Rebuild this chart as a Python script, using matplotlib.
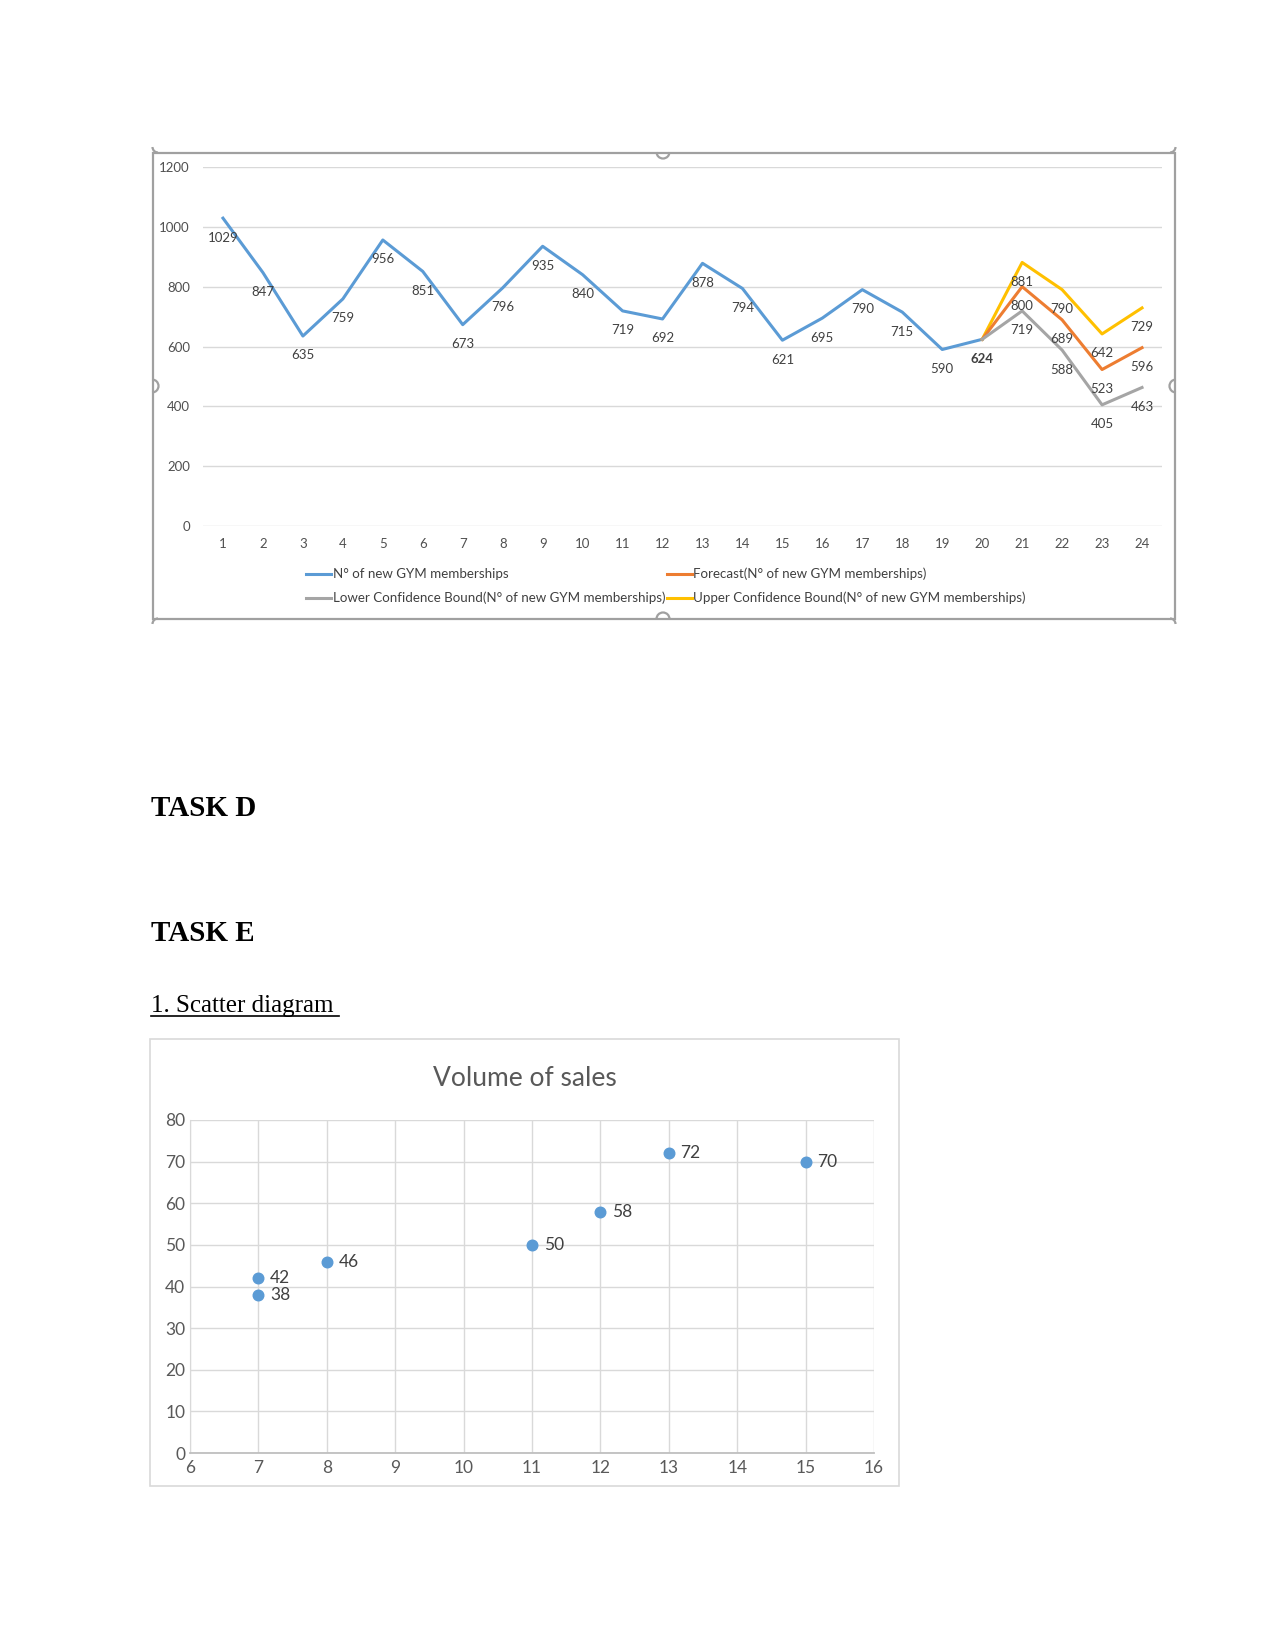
import matplotlib
matplotlib.use('Agg')
import matplotlib.pyplot as plt
from matplotlib.patches import Rectangle, Arc

# --- data: gym memberships forecast chart ---
periods = list(range(1, 25))
memberships = [1029, 847, 635, 759, 956, 851, 673, 796, 935, 840, 719, 692,
               878, 794, 621, 695, 790, 715, 590, 624]
forecast_x = [20, 21, 22, 23, 24]
forecast = [624, 800, 689, 523, 596]
lower_bound = [624, 719, 588, 405, 463]
upper_bound = [624, 881, 790, 642, 729]
y_ticks_top = [0, 200, 400, 600, 800, 1000, 1200]

legend_labels = ['N° of new GYM memberships',
                 'Lower Confidence Bound(N° of new GYM memberships)',
                 'Forecast(N° of new GYM memberships)',
                 'Upper Confidence Bound(N° of new GYM memberships)']

# --- data: scatter diagram ---
scatter_x = [7, 7, 8, 11, 12, 13, 15]
scatter_y = [42, 38, 46, 50, 58, 72, 70]
scatter_title = 'Volume of sales'

BLUE = '#5B9BD5'
ORANGE = '#ED7D31'
GRAY = '#A5A5A5'
YELLOW = '#FFC000'
GRID = '#D9D9D9'
LABEL = '#404040'

W, H = 1275, 1650
fig = plt.figure(figsize=(W / 100, H / 100), dpi=100)
fig.patch.set_facecolor('white')


def px_axes(x0, y0, x1, y1):
    return fig.add_axes([x0 / W, 1 - y1 / H, (x1 - x0) / W, (y1 - y0) / H])


# ---------------- top chart ----------------
ax = px_axes(203, 167, 1162, 526)
ax.set_xlim(0.5, 24.5)
ax.set_ylim(0, 1200)
ax.set_yticks(y_ticks_top)
ax.set_xticks(periods)
ax.grid(axis='y', color=GRID, lw=1)
ax.set_axisbelow(True)
for s in ax.spines.values():
    s.set_visible(False)
ax.tick_params(length=0, labelsize=9.5, colors='#505050', pad=9)
ax.tick_params(axis='y', pad=9.4)
for lab in ax.get_xticklabels() + ax.get_yticklabels():
    lab.set_family('Lato')

l1, = ax.plot(periods[:len(memberships)], memberships, color=BLUE, lw=2.2)
l3, = ax.plot(forecast_x, upper_bound, color=YELLOW, lw=2.2)
l2, = ax.plot(forecast_x, forecast, color=ORANGE, lw=2.2)
l4, = ax.plot(forecast_x, lower_bound, color=GRAY, lw=2.2)

lbl_kw = dict(textcoords='offset points', xytext=(0, -14), ha='center',
              va='center', fontsize=9.5, color=LABEL, family='Lato')
for i, v in enumerate(memberships):
    w = 'bold' if i == len(memberships) - 1 else 'normal'
    ax.annotate(str(v), (periods[i], v), fontweight=w, **lbl_kw)
for series in (forecast, lower_bound, upper_bound):
    for x, v in zip(forecast_x[1:], series[1:]):
        ax.annotate(str(v), (x, v), **lbl_kw)

fig.legend([l1, l4, l2, l3], legend_labels, ncol=2, loc='center',
           bbox_to_anchor=(666 / W, 1 - 586 / H), frameon=False,
           prop={'family': 'Lato', 'size': 9.6}, labelcolor='#404040',
           handlelength=1.9, handletextpad=0.1, columnspacing=0.1,
           labelspacing=0.85)

# ---------------- scatter chart ----------------
sx = px_axes(190, 1120, 874, 1453)
sx.set_xlim(6, 16)
sx.set_ylim(0, 80)
sx.set_xticks(range(6, 17))
sx.set_yticks(range(0, 81, 10))
sx.grid(True, color=GRID, lw=1)
sx.set_axisbelow(True)
for k in ('top', 'right'):
    sx.spines[k].set_visible(False)
sx.spines['left'].set_color(GRID)
sx.spines['bottom'].set_color('#BFBFBF')
sx.spines['bottom'].set_linewidth(1.3)
sx.tick_params(length=0, labelsize=12.5, colors='#595959', pad=5)
sx.tick_params(axis='y', pad=3.5)
for lab in sx.get_xticklabels() + sx.get_yticklabels():
    lab.set_family('Lato')
sx.scatter(scatter_x, scatter_y, s=58, color=BLUE, zorder=3)
for x, y in zip(scatter_x, scatter_y):
    sx.annotate(str(y), (x, y), textcoords='offset points', xytext=(8.5, 0),
                ha='left', va='center', fontsize=12.5, color=LABEL,
                family='Lato')

# ---------------- page overlay ----------------
ov = fig.add_axes([0, 0, 1, 1], facecolor='none')
ov.set_xlim(0, W)
ov.set_ylim(H, 0)
ov.axis('off')

# top chart frame with selection handles (y axis is inverted here)
fc = '#A0A0A0'
ov.add_patch(Rectangle((152.5, 152.5), 1022.5, 466, fill=False, ec=fc, lw=1.6))
ov.add_patch(Arc((663, 152), 13, 13, theta1=0, theta2=180, ec=fc, lw=1.6))
ov.add_patch(Arc((663, 619), 13, 13, theta1=180, theta2=360, ec=fc, lw=1.6))
ov.add_patch(Arc((152, 386), 13, 13, theta1=-90, theta2=90, ec=fc, lw=1.6))
ov.add_patch(Arc((1176, 386), 13, 13, theta1=90, theta2=270, ec=fc, lw=1.6))
for cx, cy, t1 in [(158, 147, 90), (1170, 147, 0), (158, 624, 180), (1170, 624, 270)]:
    ov.add_patch(Arc((cx, cy), 11, 11, theta1=t1, theta2=t1 + 90, ec=fc, lw=1.6))

# scatter chart frame
ov.add_patch(Rectangle((150, 1039), 749, 447, fill=False, ec=GRID, lw=1.2))
ov.text(525, 1078, scatter_title, ha='center', va='center', fontsize=19,
        color='#595959', family='Lato')

# document text
ov.text(151, 816, 'TASK D', family='Liberation Serif', fontweight='bold',
        fontsize=21, va='baseline', ha='left')
ov.text(151, 941, 'TASK E', family='Liberation Serif', fontweight='bold',
        fontsize=21, va='baseline', ha='left')
ov.text(151, 1012, '1. Scatter diagram', family='Liberation Serif',
        fontsize=18, va='baseline', ha='left')
ov.plot([151, 339], [1016, 1016], color='black', lw=1.2)

fig.savefig('out.png', dpi=100, facecolor='white')
